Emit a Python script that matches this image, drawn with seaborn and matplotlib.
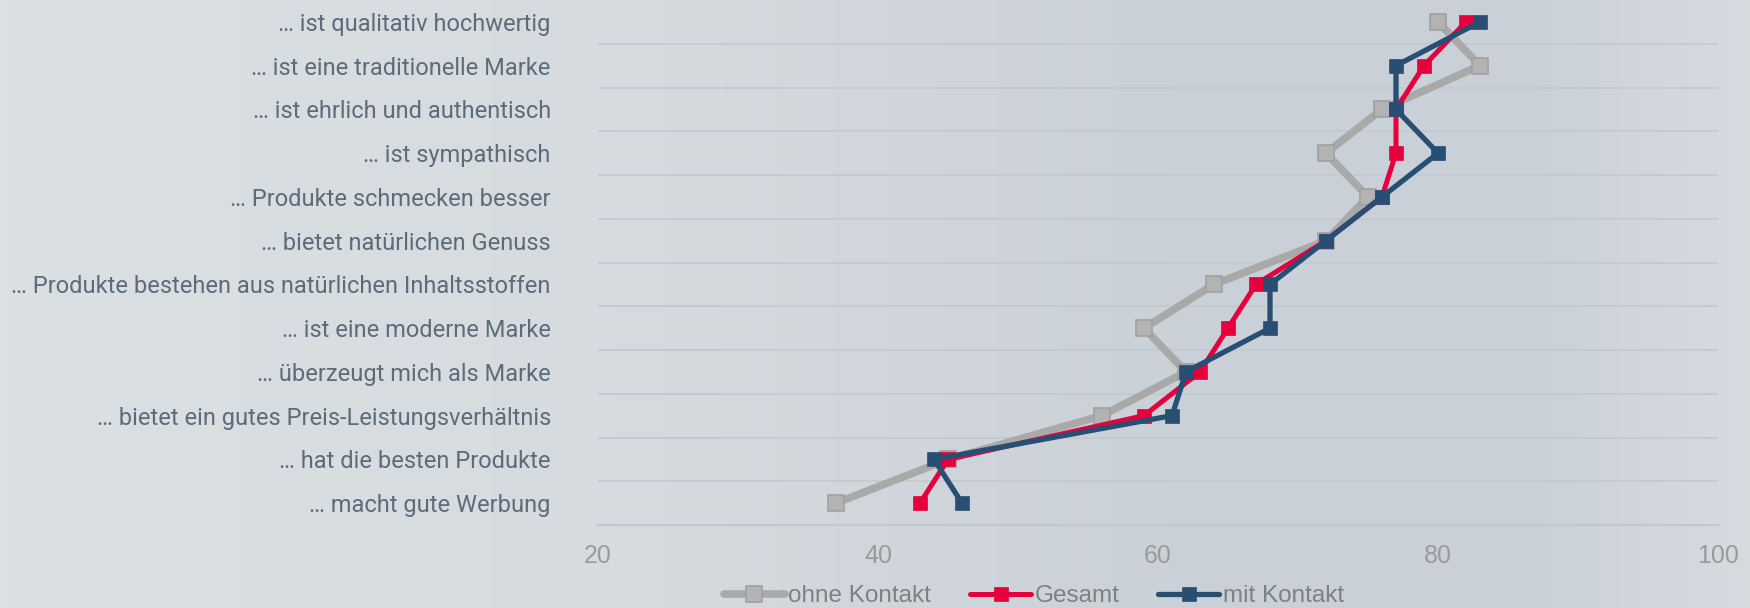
import numpy as np
import pandas as pd
import matplotlib
matplotlib.use("Agg")
import matplotlib.pyplot as plt
from matplotlib.colors import LinearSegmentedColormap
import seaborn as sb

aussagen = [
    "… ist qualitativ hochwertig",
    "… ist eine traditionelle Marke",
    "… ist ehrlich und authentisch",
    "… ist sympathisch",
    "… Produkte schmecken besser",
    "… bietet natürlichen Genuss",
    "… Produkte bestehen aus natürlichen Inhaltsstoffen",
    "… ist eine moderne Marke",
    "… überzeugt mich als Marke",
    "… bietet ein gutes Preis-Leistungsverhältnis",
    "… hat die besten Produkte",
    "… macht gute Werbung",
]
ohne_kontakt = [80, 83, 76, 72, 75, 72, 64, 59, 62, 56, 45, 37]
gesamt = [82, 79, 77, 77, 76, 72, 67, 65, 63, 59, 45, 43]
mit_kontakt = [83, 77, 77, 80, 76, 72, 68, 68, 62, 61, 44, 46]
gruppen = ["ohne Kontakt", "Gesamt", "mit Kontakt"]
x_ticks = [20, 40, 60, 80, 100]

pos = list(range(len(aussagen)))
data = pd.concat([
    pd.DataFrame({"pos": pos, "wert": werte, "gruppe": g})
    for g, werte in zip(gruppen, [ohne_kontakt, gesamt, mit_kontakt])
])

sb.set_theme(style="white")
plt.rcParams["font.family"] = ["Roboto", "DejaVu Sans"]

fig = plt.figure(figsize=(17.5, 6.08), dpi=100)

# background gradient
bg = fig.add_axes([0, 0, 1, 1], zorder=-10)
cmap = LinearSegmentedColormap.from_list("bg", [
    (0.0, "#dbe0e3"), (0.35, "#d6dbdf"), (0.7, "#c9d0d7"),
    (0.88, "#cad1d8"), (1.0, "#d6dbe0")])
bg.imshow(np.linspace(0, 1, 512)[None, :], aspect="auto", cmap=cmap,
          extent=[0, 1, 0, 1])
bg.axis("off")

ax = fig.add_axes([598 / 1750, 1 - 525 / 608, 1120 / 1750, 525 / 608])
ax.patch.set_alpha(0)

stile = {
    "ohne Kontakt": dict(color="#a9a9a9", lw=5.5, ms=11, mfc="#b3b3b3", mec="#a0a0a0", mew=1.2, z=3),
    "Gesamt": dict(color="#e6003c", lw=3.6, ms=10, mfc="#e6003c", mec="#e6003c", mew=0.5, z=4),
    "mit Kontakt": dict(color="#284f73", lw=3.8, ms=10.5, mfc="#284f73", mec="#284f73", mew=0.5, z=5),
}
for g in gruppen:
    s = stile[g]
    sb.lineplot(data=data[data.gruppe == g], x="wert", y="pos", sort=False, orient="y",
                color=s["color"], linewidth=s["lw"], marker="s", markersize=s["ms"],
                markerfacecolor=s["mfc"], markeredgecolor=s["mec"], markeredgewidth=s["mew"],
                label=g, zorder=s["z"], ax=ax, estimator=None)

ax.set_xlim(20, 100)
ax.set_ylim(len(aussagen) - 0.5, -0.5)
ax.set_xticks(x_ticks)
ax.set_yticks(pos)
ax.set_yticklabels(aussagen)
ax.set_yticks(np.arange(0.5, len(aussagen) - 0.4, 1), minor=True)
ax.grid(which="minor", axis="y", color="#c3cad1", linewidth=1.3)
ax.grid(which="major", visible=False)
ax.set_xlabel("")
ax.set_ylabel("")
for sp in ["top", "right", "left"]:
    ax.spines[sp].set_visible(False)
ax.spines["bottom"].set_color("#c1c8cf")
ax.spines["bottom"].set_linewidth(1.6)
ax.tick_params(axis="y", which="both", length=0, pad=34, labelsize=17, labelcolor="#5d6c7b")
ax.tick_params(axis="x", length=0, pad=14, labelsize=18, labelcolor="#9a9a9a")
for t in ax.get_xticklabels():
    t.set_fontfamily(["Liberation Sans", "DejaVu Sans"])

if ax.legend_:
    ax.legend_.remove()
h, l = ax.get_legend_handles_labels()
leg = fig.legend(h, l, loc="lower center", bbox_to_anchor=(1034 / 1750, -0.035), ncol=3,
                 frameon=False, handlelength=2.5, handletextpad=0.15,
                 columnspacing=1.6, prop={"family": ["Liberation Sans", "DejaVu Sans"], "size": 17.5})
for t in leg.get_texts():
    t.set_color("#808080")

plt.savefig("out.png", dpi=100)
